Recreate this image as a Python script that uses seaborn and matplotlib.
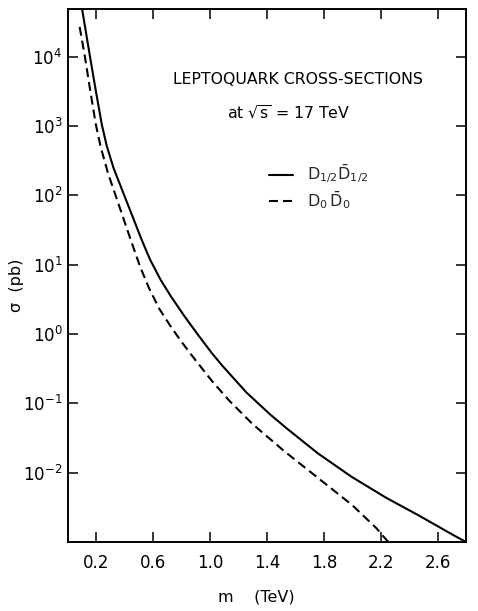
import matplotlib
matplotlib.use("Agg")
import matplotlib.pyplot as plt
from matplotlib.ticker import NullLocator
import pandas as pd
import seaborn as sns

# Pair-production cross-sections (pb) of leptoquarks at sqrt(s) = 17 TeV, vs mass (TeV)
mass_half = [0.099, 0.155, 0.195, 0.238, 0.272, 0.32, 0.396, 0.518, 0.577, 0.651,
             0.724, 0.82, 0.918, 1.014, 1.087, 1.256, 1.423, 1.538, 1.758, 1.996,
             2.234, 2.47, 2.71, 2.80]
sigma_half = [4.9e4, 1.0e4, 3.3e3, 1.05e3, 5.25e2, 2.5e2, 1.0e2, 23.0, 11.9, 6.1,
              3.5, 1.8, 0.955, 0.525, 0.347, 0.143, 0.069, 0.0437, 0.019, 8.7e-3,
              4.4e-3, 2.4e-3, 1.26e-3, 1.0e-3]

mass_zero = [0.082, 0.119, 0.156, 0.196, 0.23, 0.28, 0.34, 0.433, 0.47, 0.508,
             0.57, 0.643, 0.716, 0.795, 0.893, 1.018, 1.139, 1.235, 1.30, 1.522,
             1.762, 2.0, 2.17, 2.21, 2.29]
sigma_zero = [2.7e4, 1.0e4, 3.3e3, 1.05e3, 5.0e2, 2.14e2, 93.0, 25.7, 15.5, 9.3,
              4.6, 2.3, 1.35, 0.79, 0.43, 0.204, 0.107, 0.068, 0.050, 0.0204,
              8.3e-3, 3.4e-3, 1.58e-3, 1.26e-3, 8.3e-4]

label_half = r"$\mathrm{D}_{1/2}\bar{\mathrm{D}}_{1/2}$"
label_zero = r"$\mathrm{D}_{0}\,\bar{\mathrm{D}}_{0}$"

x_ticks = [0.2, 0.6, 1.0, 1.4, 1.8, 2.2, 2.6]
x_tick_labels = ["0.2", "0.6", "1.0", "1.4", "1.8", "2.2", "2.6"]
y_ticks = [1e-2, 1e-1, 1e0, 1e1, 1e2, 1e3, 1e4]
y_tick_labels = [r"$10^{-2}$", r"$10^{-1}$", r"$10^{0}$", r"$10^{1}$",
                 r"$10^{2}$", r"$10^{3}$", r"$10^{4}$"]

df = pd.concat([
    pd.DataFrame({"m": mass_half, "sigma": sigma_half, "state": label_half}),
    pd.DataFrame({"m": mass_zero, "sigma": sigma_zero, "state": label_zero}),
], ignore_index=True)

sns.set_theme(style="ticks")
plt.rcParams["font.family"] = ["DejaVu Sans"]
plt.rcParams["mathtext.fontset"] = "dejavusans"
plt.rcParams["mathtext.default"] = "regular"

fig = plt.figure(figsize=(4.78, 6.11), dpi=100)
ax = fig.add_axes([68 / 478, 1 - 542 / 611, 398 / 478, 533 / 611])

sns.lineplot(data=df, x="m", y="sigma", style="state",
             style_order=[label_half, label_zero],
             dashes={label_half: "", label_zero: (4.3, 2.4)},
             color="black", linewidth=1.5, sort=False, estimator=None,
             ax=ax)

ax.set_yscale("log")
ax.set_xlim(0.0, 2.8)
ax.set_ylim(1e-3, 10 ** 4.69)
ax.set_xticks(x_ticks)
ax.set_xticklabels(x_tick_labels)
ax.set_yticks(y_ticks)
ax.set_yticklabels(y_tick_labels)
ax.yaxis.set_minor_locator(NullLocator())
ax.xaxis.set_minor_locator(NullLocator())
ax.tick_params(axis="both", which="major", direction="in", length=7, width=1.1,
               top=True, right=True, labelsize=12, color="black", labelcolor="black")
ax.tick_params(axis="x", pad=9)
ax.tick_params(axis="y", pad=4)
for side in ["left", "right", "top", "bottom"]:
    ax.spines[side].set_visible(True)
    ax.spines[side].set_linewidth(1.4)
    ax.spines[side].set_color("black")

ax.set_xlabel("m    (TeV)", fontsize=11.5, color="black")
ax.xaxis.set_label_coords(0.472, -0.090)
ax.set_ylabel("σ  (pb)", fontsize=11.5, color="black")
ax.yaxis.set_label_coords(-0.11, 0.482)

ax.text(0.578, 0.867, "LEPTOQUARK CROSS-SECTIONS", transform=ax.transAxes,
        ha="center", va="center", fontsize=11.3, color="black")
ax.text(0.555, 0.805, r"at $\sqrt{s}$ = 17 TeV", transform=ax.transAxes,
        ha="center", va="center", fontsize=11.3, color="black")

handles, labels = ax.get_legend_handles_labels()
ax.legend(handles, labels, loc="upper left",
          bbox_to_anchor=(269 / 478, 1 - 163 / 611), bbox_transform=fig.transFigure,
          frameon=False, fontsize=11.5, handlelength=1.5, handletextpad=0.85,
          labelspacing=0.2, borderpad=0, borderaxespad=0)

fig.savefig("out.png", dpi=100, facecolor="white")
